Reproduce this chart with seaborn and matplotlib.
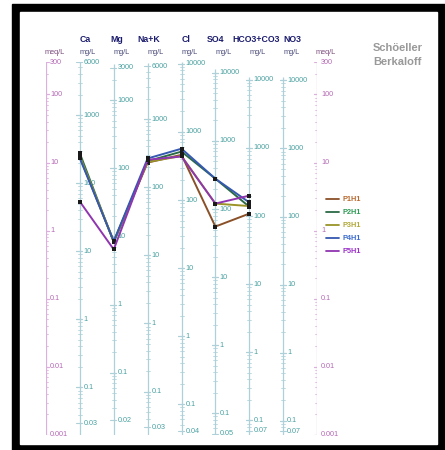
import numpy as np
import pandas as pd
import matplotlib
matplotlib.use("Agg")
import matplotlib.pyplot as plt
from matplotlib.patches import Rectangle
from matplotlib.lines import Line2D
import seaborn as sns

sns.set_style("white")
plt.rcParams['font.family'] = ['Liberation Sans', 'DejaVu Sans']

# ---------------- data ----------------
ions = ["Ca", "Mg", "Na+K", "Cl", "SO4", "HCO3+CO3", "NO3"]
eq_weights = [20.04, 12.15, 23.0, 35.45, 48.03, 61.02, 62.0]
top_labels = ["6000", "3000", "6000", "10000", "10000", "10000", "10000"]
bottom_labels = ["0.03", "0.02", "0.03", "0.04", "0.05", "0.07", "0.07"]
meq_labels = ["300", "100", "10", "1", "0.1", "0.01", "0.001"]

samples = ["P1H1", "P2H1", "P3H1", "P4H1", "P5H1"]
plotted_ions = ["Ca", "Mg", "Na+K", "Cl", "SO4", "HCO3+CO3"]
P1H1 = [12.0, 0.69, 10.0, 13.0, 1.15, 1.78]
P2H1 = [13.6, 0.68, 10.5, 14.5, 5.8, 2.25]
P3H1 = [12.3, 0.70, 10.2, 12.5, 2.5, 2.3]
P4H1 = [11.5, 0.70, 11.5, 16.0, 5.8, 2.6]
P5H1 = [2.67, 0.53, 11.0, 12.3, 2.5, 3.27]
series = [P1H1, P2H1, P3H1, P4H1, P5H1]
colors = ["#8a5028", "#2a6a45", "#9a9428", "#3558b0", "#9035b0"]
text_colors = ["#b86a30", "#2e9a55", "#b0a838", "#3a6ad0", "#9a30c8"]

# ---------------- figure ----------------
W, H = 445, 450
fig = plt.figure(figsize=(W / 100, H / 100), dpi=100)
def fx(px): return px / W
def fy(py): return 1 - py / H

fig.add_artist(Rectangle((fx(12), fy(450)), (445 - 12) / W, (450 - 4) / H,
                         transform=fig.transFigure, color="black", zorder=0))
fig.add_artist(Rectangle((fx(20), fy(444)), (437 - 20) / W, (444 - 12) / H,
                         transform=fig.transFigure, color="white", zorder=0))

x_left, x_right, y_top, y_bot = 46, 317, 62, 435
ax = fig.add_axes([fx(x_left), fy(y_bot), (x_right - x_left) / W, (y_bot - y_top) / H])
ax.set_xlim(0, 8)
ax.set_yscale("log")
ax.set_ylim(0.001, 300)
ax.axis("off")
pxu = (x_right - x_left) / 8.0  # px per x unit

MEQ_C = "#b468b4"
MEQ_LINE = "#dcb0dc"
MG_C = "#4aa0a0"
MG_LINE = "#aed0d8"
tick_fs = 5.2

def draw_axis(xpos, lo_meq, hi_meq, factor, label_vals, label_txt, lcol, tcol):
    ax.plot([xpos, xpos], [lo_meq, hi_meq], color=lcol, lw=0.9, zorder=1,
            solid_capstyle="butt")
    lo = lo_meq * factor
    hi = hi_meq * factor
    for e in range(int(np.floor(np.log10(lo))) - 1, int(np.ceil(np.log10(hi))) + 1):
        for k in range(1, 10):
            v = k * 10.0 ** e
            if v < lo * 0.999 or v > hi * 1.001:
                continue
            m = v / factor
            if k == 1:
                ax.plot([xpos - 3.5 / pxu, xpos + 2.5 / pxu], [m, m], color=lcol, lw=0.8, zorder=1)
            else:
                ax.plot([xpos - 2.0 / pxu, xpos + 2.0 / pxu], [m, m], color=lcol, lw=0.55, zorder=1)
    for v, t in zip(label_vals, label_txt):
        m = v / factor
        ax.plot([xpos - 3.5 / pxu, xpos + 2.5 / pxu], [m, m], color=lcol, lw=0.8, zorder=1)
        ax.text(xpos + 4 / pxu, m, t, color=tcol, fontsize=tick_fs, ha="left",
                va="center", zorder=2, clip_on=False)

# meq axes
meq_vals = [float(s) for s in meq_labels]
for xpos in (0, 8):
    draw_axis(xpos, 0.001, 300, 1.0, meq_vals, meq_labels, MEQ_LINE, MEQ_C)

# ion axes
for i, (ion, w) in enumerate(zip(ions, eq_weights)):
    xpos = i + 1
    top_v = float(top_labels[i])
    bot_v = float(bottom_labels[i])
    decs = [10.0 ** e for e in range(3, -2, -1) if 10.0 ** e < top_v * 0.9]
    vals = [top_v] + decs + [bot_v]
    txt = [top_labels[i]] + [("%g" % d) for d in decs] + [bottom_labels[i]]
    hi_meq = min(300, top_v / w * 1.12)
    draw_axis(xpos, 0.001, hi_meq, w, vals, txt, MG_LINE, MG_C)

# data lines via seaborn
rows = []
for s, vals in zip(samples, series):
    for ion, v in zip(plotted_ions, vals):
        rows.append({"sample": s, "pos": ions.index(ion) + 1, "meq": v})
df = pd.DataFrame(rows)
sns.lineplot(data=df, x="pos", y="meq", hue="sample", palette=colors,
             marker="s", linewidth=1.4, estimator=None,
             sort=False, legend=False, ax=ax, zorder=5)
for ln in ax.lines[-len(samples):]:
    ln.set_markersize(2.6)
    ln.set_markeredgewidth(0)
    ln.set_markerfacecolor("#1a1a1a")
    ln.set_clip_on(False)

# header texts
name_off = [0, -3, -10, 0, -9, -17, 0]
for i, ion in enumerate(ions):
    xpx = x_left + (i + 1) * pxu
    fig.text(fx(xpx + name_off[i]), fy(40), ion, fontsize=6.3, fontweight="bold",
             color="#1c1c6e", ha="left", va="center")
    fig.text(fx(xpx), fy(53), "mg/L", fontsize=5.3, color="#4a4a7a",
             ha="left", va="center")
for xpx in (x_left, x_right):
    fig.text(fx(xpx - 1), fy(53), "meq/L", fontsize=5.3, color="#7a4a7a",
             ha="left", va="center")

fig.text(fx(373), fy(48), "Schöeller", fontsize=8, fontweight="bold",
         color="#999999", ha="left", va="center")
fig.text(fx(373), fy(62), "Berkaloff", fontsize=8, fontweight="bold",
         color="#999999", ha="left", va="center")

# legend
handles = [Line2D([0], [0], color=c, lw=1.3) for c in colors]
ax.legend(handles, samples, loc="upper left", bbox_to_anchor=(fx(326), fy(196)),
          bbox_transform=fig.transFigure, frameon=False,
          prop={"weight": "bold", "size": 5.3}, handlelength=1.7,
          handletextpad=0.5, labelspacing=0.8, labelcolor=text_colors,
          borderpad=0, borderaxespad=0)

fig.savefig("out.png", dpi=100)
